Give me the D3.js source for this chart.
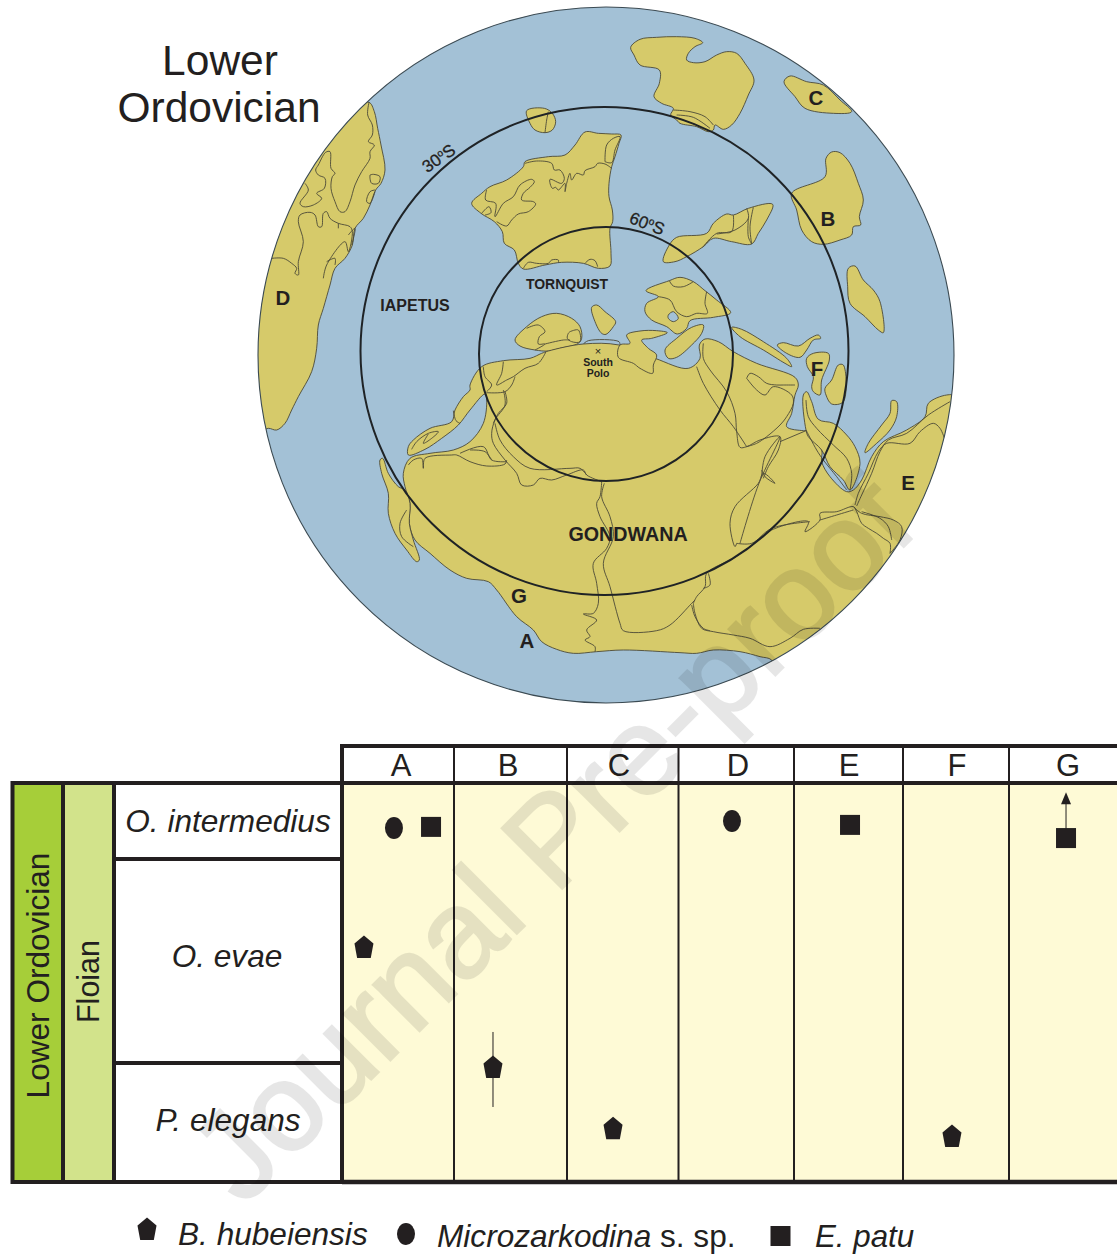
<!DOCTYPE html>
<html><head><meta charset="utf-8">
<script src="https://cdn.jsdelivr.net/npm/d3@7"></script>
<style>html,body{margin:0;padding:0;background:#fff}svg{display:block}text{font-family:"Liberation Sans",Arial,sans-serif;fill:#231f20}</style>
</head><body><svg id="c" width="1117" height="1254"></svg>
<script>
// ---------- table data ----------
const localities = ["A","B","C","D","E","F","G"];
const zones = ["O. intermedius","O. evae","P. elegans"];
const taxa = ["hubeiensis","microzarkodina","patu"];
const occLocality = ["A","A","A","B","C","D","E","F","G"];
const occTaxon = ["hubeiensis","microzarkodina","patu","hubeiensis","hubeiensis","microzarkodina","patu","hubeiensis","patu"];
const occAcross = [0.196,0.464,0.795,0.345,0.413,0.463,0.514,0.462,0.528];
const occLevel = [0.411,0.113,0.110,0.712,0.865,0.095,0.105,0.885,0.138];
const rangeLocality = ["B","G"];
const rangeAcross = [0.345,0.528];
const rangeTop = [0.624,0.023];
const rangeBottom = [0.812,0.138];
const rangeArrow = [false,true];
// ---------- map data: crop frames and digitised outlines ----------
const frames = {z5:[255,95],z6:[465,100],z7:[620,0],z8:[470,270],z9:[370,390],z10:[680,380]};
const landOutlines = [
 [["z5",[342,22,358,50,368,100,378,150,390,225,378,265,362,285,345,330,325,370,300,400,292,450,270,490,240,520,225,570,205,640,190,690,185,760,170,830,130,905,110,945,90,985,65,1005,40,1000,10,1010,-25,800,-10,600,30,400,140,200,290,40]]],
 [["z6",[185,32,238,25,262,40,272,65,262,90,240,98,210,90,195,70]]],
 [["z6",[360,96,400,100,440,102,468,105,462,130,450,170,440,200,432,250,432,290,442,330,443,365,435,385,438,460,435,498,400,505,355,490,290,487,240,495,175,507,160,490,148,450,118,430,112,395,88,365,48,340,20,310,50,280,75,260,125,240,175,200,180,185,250,170,300,165,330,135]]],
 [["z7",[32,142,60,118,110,112,170,110,225,115,248,128,225,140,205,160,200,180,220,188,255,185,290,165,320,155,350,160,375,190,402,240,385,285,360,340,335,375,310,388,285,375,280,390,265,395,230,380,180,370,170,360,152,345,160,325,125,310,102,290,118,250,118,210,60,195,42,165]]],
 [["z7",[492,245,510,228,560,245,610,255,660,300,695,335,640,340,555,325,525,290]]],
 [["z7",[515,580,615,530,618,475,635,456,660,458,690,490,715,550,730,600,718,650,722,675,700,680,695,705,660,720,610,733,575,725,545,690,530,630]]],
 [["z7",[685,805,705,798,730,840,760,870,780,905,790,998,775,990,735,950,690,910,683,860]]],
 [["z7",[130,785,148,735,170,712,260,700,280,670,320,642,340,645,385,625,458,613,440,660,415,700,395,732,335,725,280,715,250,740,200,770,165,785]]],
 [["z8",[528,62,598,32,630,22,670,35,705,62,740,90,782,128,730,142,660,152,650,175,622,192,590,170,545,150,525,125,530,100,565,80]]],
 [["z8",[365,112,380,105,405,125,437,155,430,170,408,193,395,190,375,155]]],
 [["z8",[135,210,170,170,215,140,260,130,305,145,330,170,335,205,325,220,270,235,235,243,195,240,150,228]]],
 [["z9",[115,195,115,170,130,150,180,115,245,95,255,60,280,20,300,0]],
  ["z8",[0,345,35,290,100,272,180,265,215,250,235,243,340,222,447,225,555,265,655,295,690,265,688,225,705,207,745,215,790,245,860,280,975,322,985,345,975,375,965,430,950,470,1000,482]],
  ["z10",[378,152,425,210,425,245,450,290,500,335,520,330,545,300,575,230,610,185,680,150,735,110,745,70,800,45,830,50,860,200,800,500,600,800,300,900,275,840,240,830,180,815,100,810,50,820,0,818]],
  ["z9",[760,780,680,785,610,790,560,778,515,755,490,720,440,680,380,600,355,575,290,565,240,540,180,490,135,450,118,400,120,340,105,290,100,250,120,205,180,190,250,180,300,155,340,100,350,30,345,12,300,60,265,105,215,145,165,178]]],
 [["z8",[470,195,510,183,560,182,592,188,545,205,515,210,535,235,560,255,550,285,548,310,510,295,490,280,445,262,450,225,480,220]]],
 [["z8",[585,240,620,205,665,172,700,165,695,190,665,225,620,262,595,265]]],
 [["z8",[785,172,815,178,880,215,950,265,965,290,945,280,880,240,810,200]]],
 [["z8",[922,225,940,218,985,228,1020,205,1045,195,1052,205,1030,210,1010,240,990,262,950,250]]],
 [["z8",[1010,265,1030,250,1075,250,1078,270,1055,330,1050,375,1030,365,1025,350,1030,320,1012,290]]],
 [["z8",[1065,355,1085,330,1105,285,1120,285,1120,395,1085,402,1068,375]]],
 [["z9",[30,210,38,205,55,250,85,290,105,300,120,340,118,400,130,450,148,510,140,515,110,480,75,430,55,370,55,310,35,250]]],
 [["z10",[370,45,380,35,395,65,415,118,460,130,500,165,525,200,540,250,510,330,490,300,450,260,425,210,385,170,378,150]]],
 [["z10",[635,62,650,65,650,110,630,150,590,190,555,218,565,190,605,135,630,100]]]
];
const seaHoles = [["z8",[595,135,610,125,625,145,610,155,595,145]]];
const innerLines = [
 ["z5",[342,22,338,60,352,90,352,120,340,140,358,150,345,170,345,190,320,230,300,270,285,320,270,350,255,350,240,320,228,280,232,245,240,235,228,220,225,170,212,172,190,210,182,225,190,240,210,250,208,280,185,295,200,310,175,330,145,335,135,325,160,285,150,265]],
 ["z5",[345,240,355,238,375,245,370,265,350,265,345,250,345,240]],
 ["z5",[360,285,345,290,335,320,345,325,360,290]],
 ["z5",[50,490,85,490,110,505,125,520,120,535,130,540,130,500,145,440,130,380,135,360,165,352,180,360,190,395,200,395,205,355,215,350,225,370,250,385,285,395,292,410,280,470,270,440,215,510,205,550]],
 ["z5",[250,385,250,400]],["z5",[280,420,300,400,290,450]],["z5",[215,500,240,490,240,510]],
 ["z6",[250,35,245,60,240,98]],
 ["z6",[180,190,215,183,260,190,268,210,285,210,298,235,290,250,255,238,262,265,272,262,280,270,300,250,300,275,305,250,315,220,320,240,335,220,355,225,360,212,390,200,398,190,420,192,440,205]],
 ["z6",[65,270,62,300,92,310,90,350,115,310,145,290,165,255,200,238,208,245,195,262,175,280,170,300,205,305,212,312,190,335,160,342,140,360,125,378,95,365]],
 ["z6",[50,340,72,320,78,338,60,345]],
 ["z6",[420,185,425,135,445,115,465,110,450,150,440,188,420,185]],
 ["z6",[175,505,190,487,215,490,250,490,260,480,280,480,280,488]],
 ["z6",[360,490,375,478,390,482,398,500]],
 ["z7",[160,330,210,335,255,350,280,375]],["z7",[170,345,220,352,270,385]],
 ["z7",[248,742,290,700,335,695,340,645]],["z7",[290,702,345,690,385,655,380,625]],["z7",[385,655,385,710,395,732]],["z7",[400,622,390,680,395,732]],
 ["z8",[598,32,610,48,640,50,670,35]],
 ["z8",[565,80,600,90,620,125,650,140,680,130,712,130,705,100,710,65]],
 ["z8",[170,175,205,165,225,185,208,200,205,222,225,222,195,240]],
 ["z8",[300,185,325,180,330,215,305,215,292,205,295,190,300,185]],
 ["z8",[225,222,280,210,300,210]],
 ["z8",[340,222,355,212,447,215,450,225]],
 ["z8",[700,220,700,265,720,300,770,365,795,430,800,485,810,532,830,530,870,510,930,500,925,540,895,590,880,625]],
 ["z8",[680,290,700,340,750,420,790,470,830,530]],
 ["z8",[830,325,840,310,865,320,890,340,920,345,940,345,975,345]],
 ["z8",[830,325,860,360,885,375,910,350,965,375,970,400,950,440,930,465,890,500,860,520,830,530]],
 ["z8",[100,275,95,310,80,345,110,330,130,320,165,295,205,280,228,245]],
 ["z8",[135,320,125,345,105,365,50,368]],
 ["z8",[105,365,110,400,85,430,70,460]],
 ["z8",[40,290,45,320,65,345,50,365]],
 ["z9",[125,178,140,155,175,130,205,125,185,145,160,160,175,132]],
 ["z9",[250,62,258,92,270,100]],
 ["z9",[400,0,405,45,375,90,365,130,370,160,405,210,440,250,455,285,490,285,510,265,545,270,590,255,640,240,650,255,695,275]],
 ["z9",[375,100,390,150,430,200,480,235,600,235,630,235,650,255]],
 ["z9",[115,225,130,210,155,205,160,235,165,205,245,195,260,195,300,215,350,228,405,222,410,210]],
 ["z9",[270,190,340,170,365,210,410,215]],["z9",[300,180,345,185,365,210]],
 ["z9",[695,275,690,320,680,340,690,380,720,440,710,475,670,520,680,580,685,640,670,670,640,672,680,690,650,720,660,740,645,750,675,770,675,785]],
 ["z9",[703,280,695,320,720,380,730,440,700,520,720,590,750,700,760,722,860,722,900,705,965,640,975,630]],
 ["z9",[110,360,90,400,95,440,130,470]],
 ["z9",[965,645,975,680,1000,715,1020,722]],
 ["z10",[40,670,45,700,65,745,100,755,160,765,210,775,270,800,330,775,370,748,420,745]],
 ["z10",[40,670,50,650,75,620,80,580,160,535,210,500,275,450,385,425,375,455,420,420,420,400,470,395,520,380,530,395,545,430,565,445,590,460,610,475,630,490,630,520]],
 ["z10",[420,420,470,405,520,390]],
 ["z10",[520,380,545,400,600,410,640,420,665,440,660,480,630,520]],
 ["z10",[545,395,600,415,625,440,635,480]],
 ["z10",[85,580,90,615,70,625]],
 ["z10",[170,490,165,500,150,430,165,380,235,310,250,280,285,310,255,290,245,270]],
 ["z10",[180,490,235,315,300,170,255,230,245,290]],
 ["z10",[170,490,215,490,275,445,390,425]],
 ["z10",[525,375,535,340,565,280,595,215,620,190,690,190,720,155,760,130,780,145,795,180]],
 ["z10",[530,378,545,345,575,280,600,215,625,180,680,160,745,105,810,65]],
 ["z10",[378,152,300,185]],
 ["z10",[378,60,385,110,410,145,460,195,500,235,515,280,510,330]],
 ["z10",[378,150,410,210,430,240,470,290,500,330]]
];
const latitudes = [-60,-30];
const mapLabels = [["D",283,297],["C",816,97],["B",828,218],["F",817,368],["E",908,482],["G",519,595],["A",527,640]];

// ---------- layout ----------
const colEdges = [342,454,567,678.5,794,903,1009,1117];
const rowEdges = [783,859,1063,1182];
const cream="#fefad6", ink="#231f20", sea="#a3c1d6", land="#d6ca6a", coast="#4c4a38";
const svg = d3.select("#c");
const frameX = d3.scaleLinear().domain([0,3]).range([0,1]);
const frameY = d3.scaleLinear().domain([0,3]).range([0,1]);
function toPts(seg){const [k,a]=seg,[ox,oy]=frames[k],r=[];for(let i=0;i<a.length;i+=2)r.push([ox+frameX(a[i]),oy+frameY(a[i+1])]);return r;}
const closed=d3.line().curve(d3.curveCatmullRomClosed.alpha(0.5));
const open=d3.line().curve(d3.curveCatmullRom.alpha(0.5));

// ---------- globe ----------
const cx=606, cy=355;
const radius=d3.scaleLinear().domain([-90,-60,-30,0]).range([0,127,244,348]);
svg.append("defs").append("clipPath").attr("id","globe").append("circle").attr("cx",cx).attr("cy",cy).attr("r",radius(0));
svg.append("circle").attr("cx",cx).attr("cy",cy).attr("r",radius(0)).attr("fill",sea);
const gMap=svg.append("g").attr("clip-path","url(#globe)");
gMap.selectAll("path.land").data(landOutlines).join("path").attr("class","land")
  .attr("d",o=>closed(o.flatMap(toPts))).attr("fill",land).attr("stroke",coast).attr("stroke-width",0.9);
gMap.selectAll("path.hole").data(seaHoles).join("path").attr("class","hole")
  .attr("d",s=>closed(toPts(s))).attr("fill",sea).attr("stroke",coast).attr("stroke-width",0.9);
gMap.selectAll("path.inner").data(innerLines).join("path").attr("class","inner")
  .attr("d",s=>open(toPts(s))).attr("fill","none").attr("stroke",coast).attr("stroke-width",0.9);
svg.selectAll("circle.lat").data(latitudes).join("circle").attr("class","lat")
  .attr("cx",d=>d===-30?604.5:606).attr("cy",d=>d===-30?351:354).attr("r",d=>radius(d))
  .attr("fill","none").attr("stroke","#1f2326").attr("stroke-width",2);
svg.append("circle").attr("cx",cx).attr("cy",cy).attr("r",radius(0)).attr("fill","none").attr("stroke","#3b4a52").attr("stroke-width",1.1);
svg.selectAll("text.ml").data(mapLabels).join("text").attr("class","ml").attr("x",d=>d[1]).attr("y",d=>d[2]+7.5)
  .attr("text-anchor","middle").attr("font-size",20.5).attr("font-weight",700).text(d=>d[0]);
function lbl(t,x,y,s,rot){const e=svg.append("text").attr("text-anchor","middle").attr("font-size",s).attr("font-weight",700)
  .attr("transform",`translate(${x},${y}) rotate(${rot||0})`);
  e.text(t);return e;}
lbl("TORNQUIST",567,289,14); lbl("IAPETUS",415,311,16); lbl("GONDWANA",628,541,19.7);
lbl("×",598,355,11).attr("font-weight",400); lbl("South",598,366,10.5); lbl("Polo",598,377,10.5);
function deg(t,x,y,rot){const e=svg.append("text").attr("text-anchor","middle").attr("font-size",17).attr("font-weight",400)
  .style("stroke","#231f20").style("stroke-width",0.3)
  .attr("transform",`translate(${x},${y}) rotate(${rot})`);
  e.append("tspan").text(t);e.append("tspan").attr("dy",-6).attr("font-size",10).text("o");e.append("tspan").attr("dy",6).text("S");}
deg("30",442,163,-35); deg("60",645,229,21);
svg.append("text").attr("x",220).attr("y",75).attr("text-anchor","middle").attr("font-size",42.5).text("Lower");
svg.append("text").attr("x",219).attr("y",122).attr("text-anchor","middle").attr("font-size",42.5).text("Ordovician");

// ---------- table ----------
const colX=d3.scaleOrdinal().domain(localities).range(colEdges.slice(0,-1));
const colW=d3.scaleOrdinal().domain(localities).range(colEdges.slice(1).map((e,i)=>e-colEdges[i]));
const levelY=d3.scaleLinear().domain([0,1]).range([rowEdges[0],rowEdges[3]]);
const tb=svg.append("g");
tb.append("rect").attr("x",342).attr("y",rowEdges[0]).attr("width",775).attr("height",rowEdges[3]-rowEdges[0]).attr("fill",cream);
tb.append("rect").attr("x",13).attr("y",783).attr("width",50).attr("height",399).attr("fill","#a6ce39");
tb.append("rect").attr("x",63).attr("y",783).attr("width",50.5).attr("height",399).attr("fill","#d2e38b");
const line=(x1,y1,x2,y2,w)=>tb.append("line").attr("x1",x1).attr("y1",y1).attr("x2",x2).attr("y2",y2).attr("stroke",ink).attr("stroke-width",w);
line(342,746,1117,746,4); line(342,783,1117,783,4); line(342,1182,1117,1182,4.5);
line(342,744,342,1184,4); line(11,783,342,783,4); line(11,1182,342,1182,4);
line(12.5,781,12.5,1184,4); line(63,781,63,1184,4); line(114,781,114,1184,4);
rowEdges.slice(1,3).forEach(y=>line(114,y,342,y,4));
colEdges.slice(1,-1).forEach(x=>line(x,746,x,1182,2));
svg.selectAll("text.col").data(localities).join("text").attr("class","col")
  .attr("x",(d,i)=>[401,508,619,738,849,957,1068][i]).attr("y",776).attr("text-anchor","middle").attr("font-size",31).text(d=>d);
svg.selectAll("text.zone").data(zones).join("text").attr("class","zone")
  .attr("x",(d,i)=>[228,227,228][i]).attr("y",(d,i)=>[832,967,1131][i]).attr("text-anchor","middle")
  .attr("font-size",31.6).attr("font-style","italic").text(d=>d);
svg.append("text").attr("transform","translate(49,975.5) rotate(-90)").attr("text-anchor","middle").attr("font-size",31.6).text("Lower Ordovician");
svg.append("text").attr("transform","translate(99,981.5) rotate(-90)").attr("text-anchor","middle").attr("font-size",30.5).text("Floian");

// ---------- markers ----------
const pent=d3.line().curve(d3.curveLinear)([[0,-11.5],[9.5,-3.5],[6.8,11],[-6.8,11],[-9.5,-3.5]])+"Z";
function marker(g,t,x,y){
  if(t==="hubeiensis")g.append("path").attr("d",pent).attr("transform",`translate(${x},${y})`).attr("fill",ink);
  else if(t==="microzarkodina")g.append("ellipse").attr("cx",x).attr("cy",y).attr("rx",9).attr("ry",11).attr("fill",ink);
  else g.append("rect").attr("x",x-10).attr("y",y-10).attr("width",20).attr("height",20).attr("fill",ink);
}
const mk=svg.append("g");
rangeLocality.forEach((l,i)=>{
  const x=colX(l)+rangeAcross[i]*colW(l);
  const y0=levelY(rangeTop[i]),y1=levelY(rangeBottom[i]);
  mk.append("line").attr("x1",x).attr("x2",x).attr("y1",y0+(rangeArrow[i]?8:0)).attr("y2",y1).attr("stroke",ink).attr("stroke-width",1);
  if(rangeArrow[i])mk.append("path").attr("d",d3.line()([[x,y0],[x+5,y0+12],[x-5,y0+12]])+"Z").attr("fill",ink);
});
occLocality.forEach((l,i)=>marker(mk,occTaxon[i],colX(l)+occAcross[i]*colW(l),levelY(occLevel[i])));
// legend
const legendX=[147,406,780.5], legendY=[1229,1234,1236];
taxa.forEach((t,i)=>marker(mk,t,legendX[i],legendY[i]));
function leg(x,y,s,parts){const e=svg.append("text").attr("x",x).attr("y",y).attr("font-size",s);
  parts.forEach(p=>e.append("tspan").attr("font-style",p[1]?"italic":"normal").text(p[0]));}
leg(178,1245,31.6,[["B. hubeiensis",1]]);
leg(437,1247,31.6,[["Microzarkodina",1],[" s. sp.",0]]);
leg(815,1247,31.3,[["E. patu",1]]);

// ---------- watermark ----------
svg.append("text").attr("transform","translate(243,1207.6) rotate(-45)").attr("font-size",124)
  .style("fill","#000").style("stroke","#000").style("stroke-width",2.5).style("stroke-linejoin","miter").attr("opacity",0.095).text("Journal Pre-proof");
</script></body></html>
